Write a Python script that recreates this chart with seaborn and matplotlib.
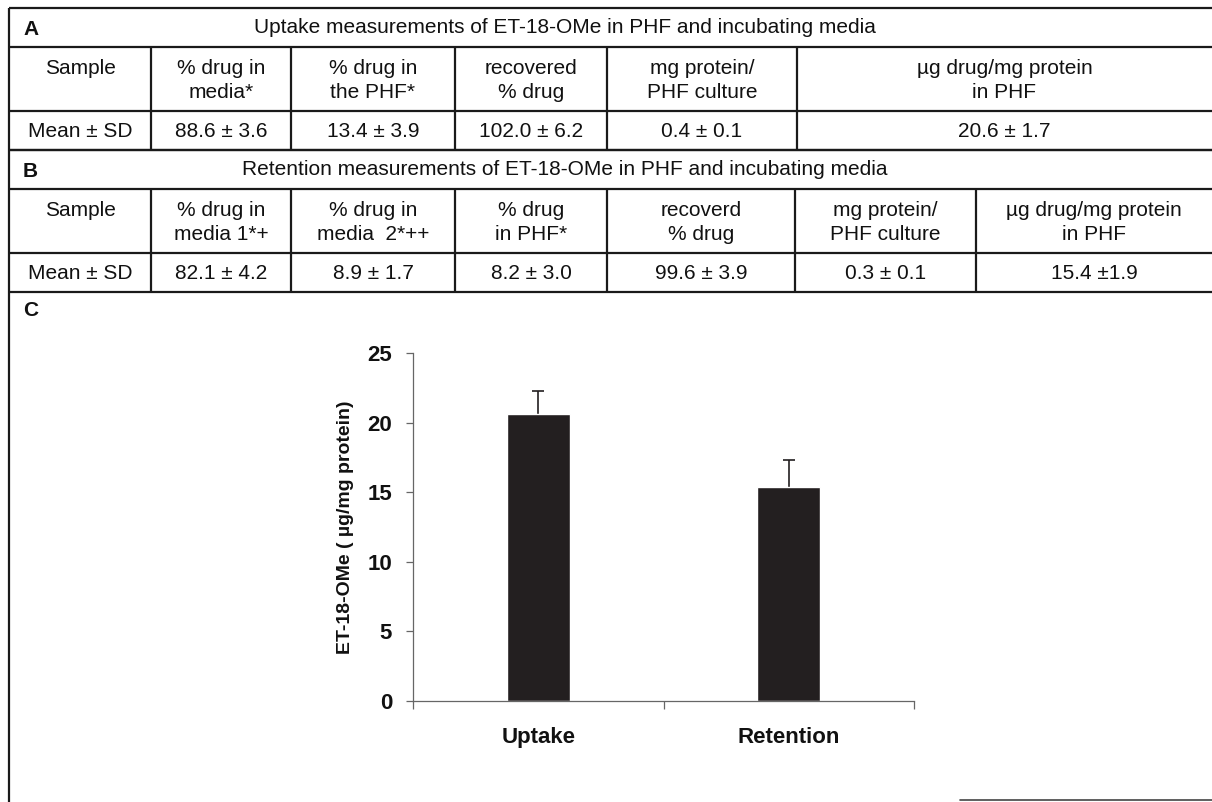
import matplotlib
matplotlib.use("Agg")
import matplotlib.pyplot as plt
import seaborn as sns
import pandas as pd

# panel C: ET-18-OMe per mg protein in PHF
groups = ['Uptake', 'Retention']
means = [20.6, 15.4]
sds = [1.7, 1.9]

# table A
a_title = 'Uptake measurements of ET-18-OMe in PHF and incubating media'
a_headers = ['Sample', '% drug in\nmedia*', '% drug in\nthe PHF*', 'recovered\n% drug',
             'mg protein/\nPHF culture', '\u00b5g drug/mg protein\nin PHF']
a_values = ['Mean \u00b1 SD', '88.6 \u00b1 3.6', '13.4 \u00b1 3.9', '102.0 \u00b1 6.2',
            '0.4 \u00b1 0.1', '20.6 \u00b1 1.7']

# table B
b_title = 'Retention measurements of ET-18-OMe in PHF and incubating media'
b_headers = ['Sample', '% drug in\nmedia 1*+', '% drug in\nmedia  2*++', '% drug\nin PHF*',
             'recoverd\n% drug', 'mg protein/\nPHF culture', '\u00b5g drug/mg protein\nin PHF']
b_values = ['Mean \u00b1 SD', '82.1 \u00b1 4.2', '8.9 \u00b1 1.7', '8.2 \u00b1 3.0',
            '99.6 \u00b1 3.9', '0.3 \u00b1 0.1', '15.4 \u00b11.9']

sns.set_theme(style='ticks')
plt.rcParams['font.family'] = ['Liberation Sans', 'DejaVu Sans']

W, H = 1212, 802
fig = plt.figure(figsize=(W / 100, H / 100), dpi=100)

# background axes in pixel units for the tables and frame
bg = fig.add_axes([0, 0, 1, 1])
bg.set_xlim(0, W)
bg.set_ylim(H, 0)
bg.axis('off')

line_kw = dict(color='#1a1a1a', lw=1.6, solid_capstyle='butt')
left = 9


def draw_table(top, cols, label, title, headers, values):
    title_bot = top + 39
    head_bot = title_bot + 64
    data_bot = head_bot + 39
    for y in (top, title_bot, head_bot, data_bot):
        bg.plot([left, W], [y, y], **line_kw)
    for x in cols[1:-1]:
        bg.plot([x, x], [title_bot, data_bot], **line_kw)
    bg.text(left + 14, (top + title_bot) / 2 + 2, label, fontsize=15, fontweight='bold',
            ha='left', va='center', color='#111')
    bg.text(565, (top + title_bot) / 2, title, fontsize=15, ha='center', va='center', color='#111')
    for i, h in enumerate(headers):
        cx = (cols[i] + cols[i + 1]) / 2
        for j, part in enumerate(h.split('\n')):
            bg.text(cx, title_bot + 21 + 24 * j, part, fontsize=15, ha='center', va='center',
                    color='#111')
        bg.text(cx, (head_bot + data_bot) / 2 + 1, values[i], fontsize=15, ha='center',
                va='center', color='#111')


draw_table(8, [9, 151, 291, 455, 607, 797, W], 'A', a_title, a_headers, a_values)
draw_table(150, [9, 151, 291, 455, 607, 795, 976, W], 'B', b_title, b_headers, b_values)

# outer frame pieces
bg.plot([left, left], [8, H], **line_kw)
bg.plot([960, W], [800, 800], color='#444', lw=1.2)
bg.text(left + 14, 311, 'C', fontsize=15, fontweight='bold', ha='left', va='center', color='#111')

# panel C bar chart
x0, x1, y0, y1 = 413, 914, 701, 353
ax = fig.add_axes([x0 / W, (H - y0) / H, (x1 - x0) / W, (y0 - y1) / H])
ax.patch.set_alpha(0)
df = pd.DataFrame({'group': groups, 'mean': means, 'sd': sds})
sns.barplot(data=df, x='group', y='mean', color='#231f20', saturation=1, width=0.25,
            errorbar=None, ax=ax, zorder=2)
# upper SD only; lower half hidden behind the bar
ax.errorbar(range(len(df)), df['mean'], yerr=[df['sd'], df['sd']], fmt='none',
            ecolor='#231f20', elinewidth=1.2, capsize=4, capthick=1.2, zorder=1)

ax.set_xlim(-0.5, len(df) - 0.5)
ax.set_ylim(0, 25)
ax.set_yticks(range(0, 26, 5))
ax.set_xticks([-0.5, 0.5, 1.5], minor=True)
for s in ('top', 'right'):
    ax.spines[s].set_visible(False)
for s in ('left', 'bottom'):
    ax.spines[s].set_color('#666')
    ax.spines[s].set_linewidth(0.9)
    ax.spines[s].set_zorder(3)
ax.tick_params(axis='y', length=5, width=0.9, color='#666', pad=10, labelsize=16)
ax.tick_params(axis='x', which='major', length=0, pad=19, labelsize=16)
ax.tick_params(axis='x', which='minor', length=6, width=0.9, color='#666', direction='out')
for t in ax.get_xticklabels() + ax.get_yticklabels():
    t.set_fontweight('bold')
    t.set_color('#111')
ax.set_xlabel('')
ax.set_ylabel('ET-18-OMe ( \u00b5g/mg protein)', fontsize=14, fontweight='bold',
              color='#111', labelpad=10)

fig.savefig('out.png', dpi=100)
